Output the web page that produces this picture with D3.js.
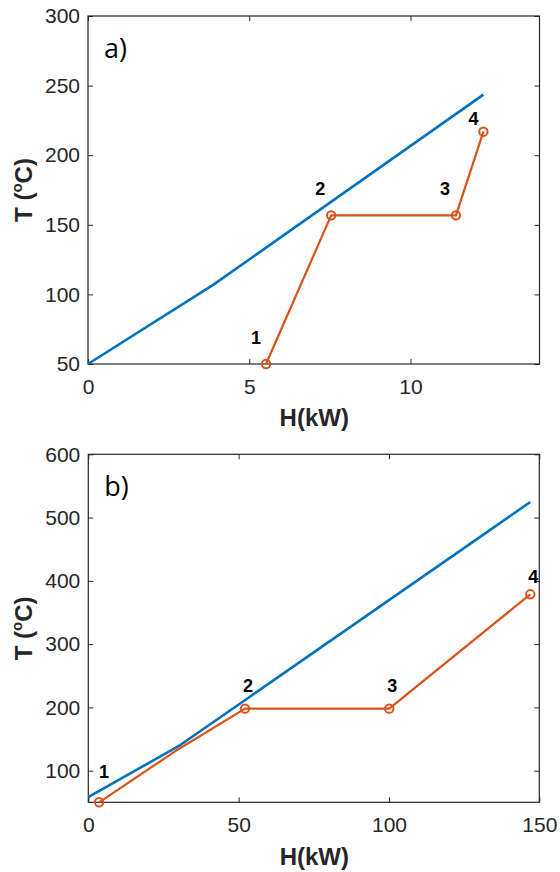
<!DOCTYPE html>
<html>
<head>
<meta charset="utf-8">
<script src="https://cdn.jsdelivr.net/npm/d3@7"></script>
<style>
  html, body { margin: 0; padding: 0; background: #fff; }
  svg { display: block; font-family: "Liberation Sans", Arial, Helvetica, sans-serif; }
</style>
</head>
<body>
<svg id="chart" width="560" height="872"></svg>
<script>
// Panel a) — hot stream (blue) and cold stream (orange) composite curves
const aHotH   = [0, 3.88, 12.26];
const aHotT   = [50, 106.8, 243.5];
const aColdH  = [5.52, 7.54, 11.41, 12.26];
const aColdT  = [50, 156.8, 156.8, 216.9];
const aPointLabels = ["1", "2", "3", "4"];
const aXTicks = [0, 5, 10];
const aYTicks = [50, 100, 150, 200, 250, 300];

// Panel b)
const bHotH   = [0, 30.6, 147];
const bHotT   = [58, 140.5, 524.6];
const bColdH  = [3.6, 29, 52.1, 100.1, 147];
const bColdT  = [50, 131, 198, 198, 378.7];
const bMarkerIdx = [0, 2, 3, 4];
const bPointLabels = ["1", "2", "3", "4"];
const bXTicks = [0, 50, 100, 150];
const bYTicks = [100, 200, 300, 400, 500, 600];

const BLUE = "#0072BD", ORANGE = "#D95319", AX = "#262626";
const svg = d3.select("#chart");

function panel(cfg) {
  const x = d3.scaleLinear().domain(cfg.xDomain).range([cfg.left, cfg.right]);
  const y = d3.scaleLinear().domain(cfg.yDomain).range([cfg.bottom, cfg.top]);
  const g = svg.append("g");

  const tickLen = 5;
  // bottom / left axes with inward ticks and labels
  const xAxis = d3.axisBottom(x).tickValues(cfg.xTicks).tickSizeInner(-tickLen).tickSizeOuter(0).tickPadding(15);
  const yAxis = d3.axisLeft(y).tickValues(cfg.yTicks).tickSizeInner(-tickLen).tickSizeOuter(0).tickPadding(8);
  const gx = g.append("g").attr("transform", `translate(0,${cfg.bottom})`).call(xAxis);
  const gy = g.append("g").attr("transform", `translate(${cfg.left},0)`).call(yAxis);
  // mirrored top / right ticks
  const gxt = g.append("g").attr("transform", `translate(0,${cfg.top})`)
    .call(d3.axisTop(x).tickValues(cfg.xTicks).tickSizeInner(-tickLen).tickSizeOuter(0).tickFormat(""));
  const gyr = g.append("g").attr("transform", `translate(${cfg.right},0)`)
    .call(d3.axisRight(y).tickValues(cfg.yTicks).tickSizeInner(-tickLen).tickSizeOuter(0).tickFormat(""));
  [gx, gy, gxt, gyr].forEach(a => {
    a.select(".domain").remove();
    a.selectAll("line").attr("stroke", AX).attr("stroke-width", 1);
    a.selectAll("text").attr("fill", AX).attr("font-size", 21)
      .attr("font-family", "'Liberation Sans', Arial, sans-serif");
  });
  // box
  g.append("rect").attr("x", cfg.left).attr("y", cfg.top)
    .attr("width", cfg.right - cfg.left).attr("height", cfg.bottom - cfg.top)
    .attr("fill", "none").attr("stroke", AX).attr("stroke-width", 1.2);

  const line = d3.line().x(d => x(d[0])).y(d => y(d[1]));
  const hot = cfg.hotH.map((h, i) => [h, cfg.hotT[i]]);
  const cold = cfg.coldH.map((h, i) => [h, cfg.coldT[i]]);
  g.append("path").attr("d", line(hot)).attr("fill", "none")
    .attr("stroke", BLUE).attr("stroke-width", 2.6).attr("stroke-linejoin", "round");
  g.append("path").attr("d", line(cold)).attr("fill", "none")
    .attr("stroke", ORANGE).attr("stroke-width", 2.2).attr("stroke-linejoin", "round");
  const marks = cfg.markerIdx.map(i => cold[i]);
  g.selectAll("circle.m").data(marks).enter().append("circle")
    .attr("cx", d => x(d[0])).attr("cy", d => y(d[1])).attr("r", 4.2)
    .attr("fill", "none").attr("stroke", ORANGE).attr("stroke-width", 2);
  g.selectAll("text.pl").data(marks).enter().append("text")
    .attr("x", (d, i) => x(d[0]) + cfg.labelOffsets[i][0])
    .attr("y", (d, i) => y(d[1]) + cfg.labelOffsets[i][1])
    .attr("text-anchor", "middle").attr("font-weight", "bold").attr("font-size", 18)
    .attr("fill", "#000").text((d, i) => cfg.pointLabels[i]);

  // panel tag
  g.append("text").attr("x", cfg.left + 16).attr("y", cfg.top + 42)
    .attr("font-family", "'Open Sans', 'Noto Sans', sans-serif").attr("font-size", 27)
    .attr("fill", "#000").text(cfg.tag);

  // axis titles
  g.append("text").attr("x", (cfg.left + cfg.right) / 2 + 0.5).attr("y", cfg.bottom + cfg.xTitleDy)
    .attr("text-anchor", "middle").attr("font-weight", "bold").attr("font-size", 24)
    .attr("fill", AX).text("H(kW)");
  const yt = g.append("text")
    .attr("transform", `translate(${cfg.yTitleX},${(cfg.top + cfg.bottom) / 2}) rotate(-90)`)
    .attr("text-anchor", "middle").attr("font-weight", "bold").attr("font-size", 24).attr("fill", AX);
  yt.append("tspan").text("T (");
  yt.append("tspan").attr("font-size", 15).attr("dy", -10).text("o");
  yt.append("tspan").attr("dy", 10).text("C)");
}

panel({
  left: 88, right: 539.5, top: 16, bottom: 364,
  xDomain: [0, 14], yDomain: [50, 300],
  xTicks: aXTicks, yTicks: aYTicks,
  hotH: aHotH, hotT: aHotT, coldH: aColdH, coldT: aColdT,
  markerIdx: [0, 1, 2, 3], pointLabels: aPointLabels,
  labelOffsets: [[-10, -20], [-11, -20], [-11, -20], [-10, -7]],
  tag: "a)", xTitleDy: 62, yTitleX: 32
});

panel({
  left: 88.3, right: 539.3, top: 454.3, bottom: 802.3,
  xDomain: [0, 150], yDomain: [50, 600],
  xTicks: bXTicks, yTicks: bYTicks,
  hotH: bHotH, hotT: bHotT, coldH: bColdH, coldT: bColdT,
  markerIdx: bMarkerIdx, pointLabels: bPointLabels,
  labelOffsets: [[5, -24], [3, -17], [3, -17], [3, -11]],
  tag: "b)", xTitleDy: 63, yTitleX: 32
});
</script>
</body>
</html>
